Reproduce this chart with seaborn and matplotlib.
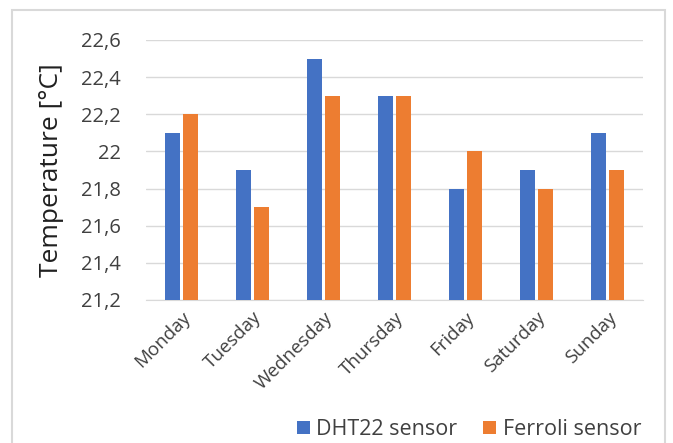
import pandas as pd
import matplotlib.pyplot as plt
import matplotlib.patches as mpatches
import seaborn as sns

days = ['Monday', 'Tuesday', 'Wednesday', 'Thursday', 'Friday', 'Saturday', 'Sunday']
dht22 = [22.1, 21.9, 22.5, 22.3, 21.8, 21.9, 22.1]
ferroli = [22.2, 21.7, 22.3, 22.3, 22.0, 21.8, 21.9]
series_names = ['DHT22 sensor', 'Ferroli sensor']
y_ticks = [21.2, 21.4, 21.6, 21.8, 22.0, 22.2, 22.4, 22.6]

df = pd.DataFrame({'day': days * 2,
                   'temp': dht22 + ferroli,
                   'sensor': [series_names[0]] * len(days) + [series_names[1]] * len(days)})

sns.set_style('white')
plt.rcParams['font.family'] = ['Open Sans', 'DejaVu Sans']

fig = plt.figure(figsize=(6.73, 4.43), dpi=100)
ax = fig.add_axes([146 / 673, 1 - 300 / 443, (643 - 146) / 673, (300 - 40) / 443])

sns.barplot(data=df, x='day', y='temp', hue='sensor', ax=ax,
            palette=['#4472C4', '#ED7D31'], width=0.5, gap=0.15,
            saturation=1, linewidth=0, zorder=3)

ax.set_ylim(21.2, 22.6)
ax.set_yticks(y_ticks)
ax.set_yticklabels([f'{v:g}'.replace('.', ',') for v in y_ticks], fontsize=14.5, color='#404040')
ax.set_xticks(range(len(days)))
ax.set_xticklabels(days, rotation=45, ha='right', rotation_mode='anchor',
                   fontsize=13.5, color='#404040')
ax.tick_params(axis='y', length=0, pad=18)
ax.tick_params(axis='x', length=0, pad=6)
ax.set_xlabel('')
ax.set_ylabel('Temperature [°C]', fontsize=19, color='#202020')
ax.yaxis.set_label_coords(-0.165, 0.5)
ax.yaxis.grid(True, color='#d9d9d9', linewidth=1, zorder=0)
for s in ['top', 'right', 'left']:
    ax.spines[s].set_visible(False)
ax.spines['bottom'].set_color('#d9d9d9')

handles, labels = ax.get_legend_handles_labels()
ax.get_legend().remove()
fig.legend(handles, labels, loc='lower right', bbox_to_anchor=(652 / 673, -0.018),
           ncol=2, frameon=False, fontsize=15.5, handlelength=0.6, handleheight=0.6,
           handletextpad=0.3, columnspacing=1.2, labelcolor='#404040', borderaxespad=0.1)

fig.patches.append(mpatches.Rectangle((12 / 673, -0.05), (665 - 12) / 673, 1 - 10 / 443 + 0.05,
                                      transform=fig.transFigure, fill=False,
                                      edgecolor='#d9d9d9', linewidth=1.5))

fig.savefig('out.png', dpi=100)
